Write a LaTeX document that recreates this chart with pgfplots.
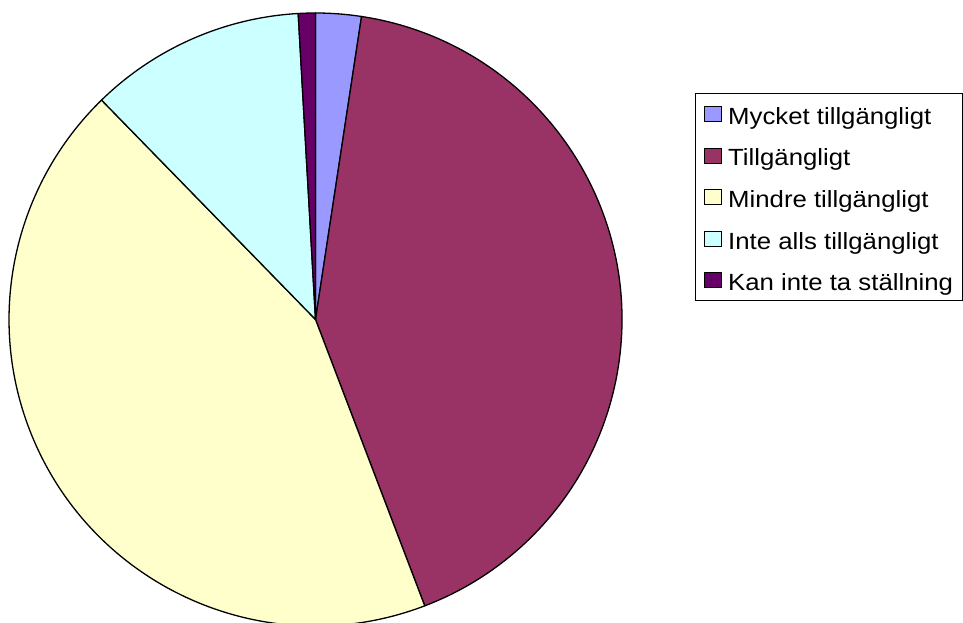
\documentclass[border=0pt]{standalone}
\usepackage{pgfplots}
\pgfplotsset{compat=1.18}
\usepackage{pgfplotstable}
\usepackage{fontspec}
\setmainfont{Liberation Sans}[FakeStretch=1.1]
\definecolor{slice0}{HTML}{9999FF}
\definecolor{slice1}{HTML}{993366}
\definecolor{slice2}{HTML}{FFFFCC}
\definecolor{slice3}{HTML}{CCFFFF}
\definecolor{slice4}{HTML}{660066}
\pgfplotstableread{
value
2.4
41.8
43.5
11.4
0.9
}\piedata
\begin{document}
\begin{tikzpicture}
\begin{axis}[
  hide axis,
  x=306.5bp, y=306.5bp,
  xmin=-1.0294, xmax=2.1126,
  ymin=-0.99021, ymax=1.04241,
  clip=true,
  legend cell align=left,
  legend image code/.code={\draw[#1] (0bp,-7.5bp) rectangle (17bp,7.5bp);},
  legend style={at={(axis cs:1.2382,0.739)}, anchor=north west,
    draw=black, line width=0.8bp, inner xsep=9bp, inner ysep=8bp,
    font=\fontsize{23.5}{28}\selectfont, row sep=16.6bp,
    nodes={inner sep=0pt, text height=23bp, text depth=2bp}},
]
\pgfplotstablegetrowsof{\piedata}
\pgfmathtruncatemacro\N{\pgfplotsretval-1}
\def\cum{0}
\pgfplotsforeachungrouped \i in {0,...,\N}{%
  \pgfplotstablegetelem{\i}{value}\of\piedata
  \pgfmathsetmacro\a{90-3.6*\cum}%
  \pgfmathsetmacro\newcum{\cum+\pgfplotsretval}%
  \pgfmathsetmacro\b{90-3.6*\newcum}%
  \edef\temp{\noexpand\filldraw[fill=slice\i, draw=black, line width=1.3bp, line join=round] (axis cs:0,0) -- (axis cs:{cos(\a)},{sin(\a)}) arc[start angle=\a, end angle=\b, radius=306.5bp] -- cycle;}%
  \temp
  \global\let\cum\newcum
}
\addlegendimage{fill=slice0, draw=black, line width=0.8bp}
\addlegendentry{\hspace*{6bp}Mycket tillgängligt}
\addlegendimage{fill=slice1, draw=black, line width=0.8bp}
\addlegendentry{\hspace*{6bp}Tillgängligt}
\addlegendimage{fill=slice2, draw=black, line width=0.8bp}
\addlegendentry{\hspace*{6bp}Mindre tillgängligt}
\addlegendimage{fill=slice3, draw=black, line width=0.8bp}
\addlegendentry{\hspace*{6bp}Inte alls tillgängligt}
\addlegendimage{fill=slice4, draw=black, line width=0.8bp}
\addlegendentry{\hspace*{6bp}Kan inte ta ställning}
\end{axis}
\pgfresetboundingbox
\path (current axis.south west) rectangle (current axis.north east);
\end{tikzpicture}
\end{document}
